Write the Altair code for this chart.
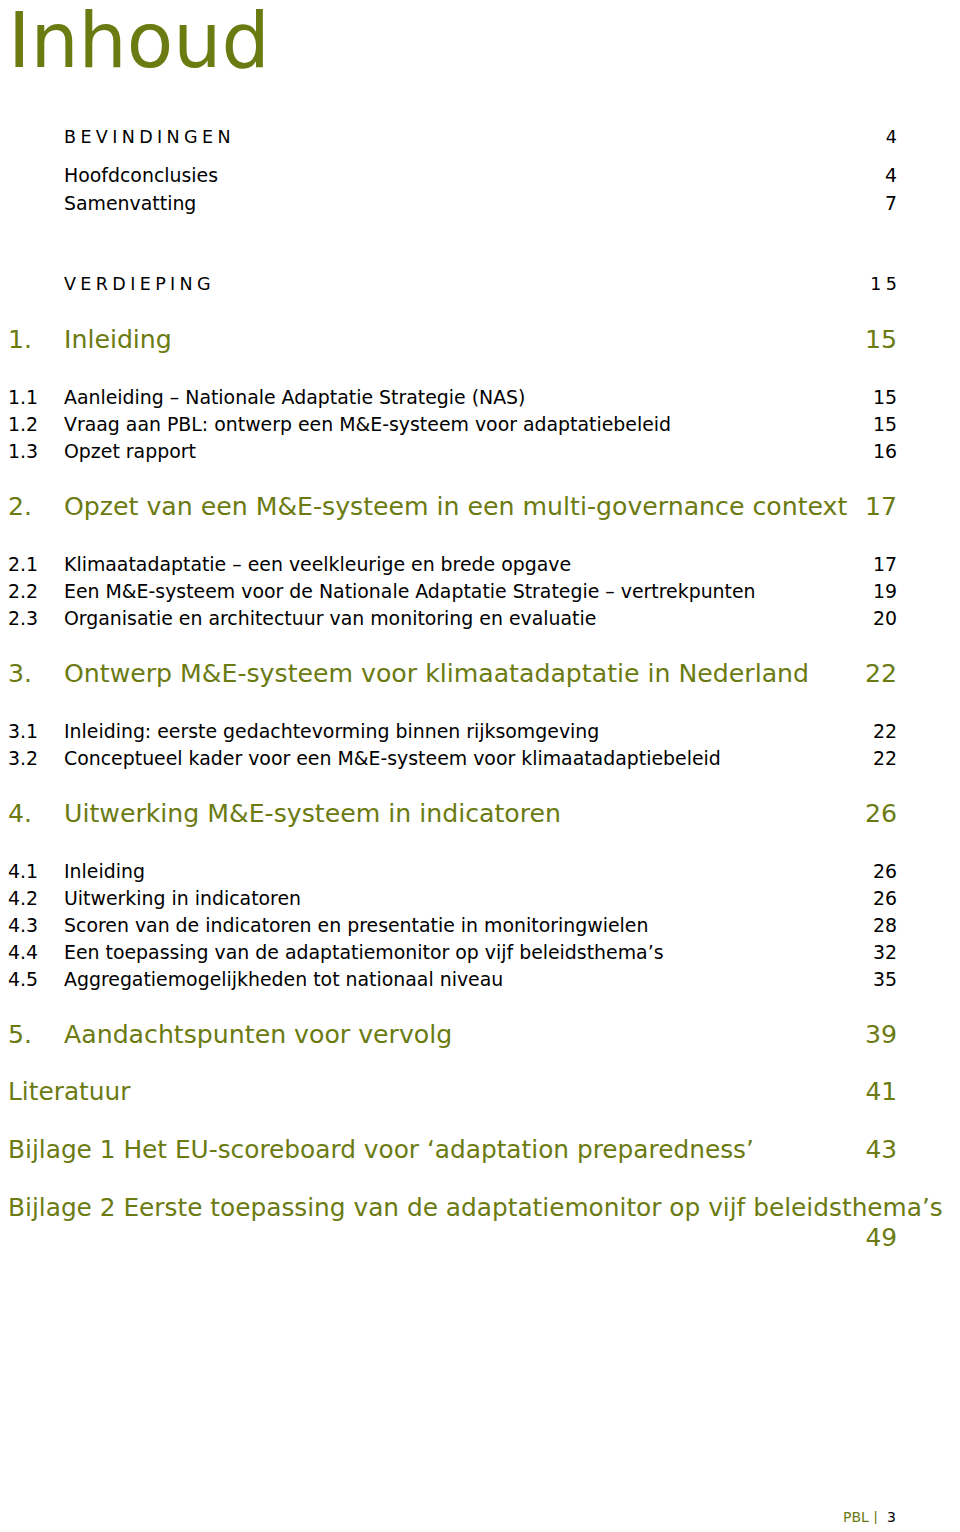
import altair as alt
import pandas as pd

FONT = "DejaVu Sans"
OLIVE = "#6b7b12"
BLACK = "#000000"

# ---- table-of-contents content ----
kinds = ["caps", "front", "front",
         "caps", "chapter", "item", "item", "item",
         "chapter", "item", "item", "item",
         "chapter", "item", "item",
         "chapter", "item", "item", "item", "item", "item",
         "chapter", "annex", "annex", "annex"]
numbers = ["", "", "",
           "", "1.", "1.1", "1.2", "1.3",
           "2.", "2.1", "2.2", "2.3",
           "3.", "3.1", "3.2",
           "4.", "4.1", "4.2", "4.3", "4.4", "4.5",
           "5.", "", "", ""]
titles = ["BEVINDINGEN", "Hoofdconclusies", "Samenvatting",
          "VERDIEPING", "Inleiding",
          "Aanleiding – Nationale Adaptatie Strategie (NAS)",
          "Vraag aan PBL: ontwerp een M&E-systeem voor adaptatiebeleid",
          "Opzet rapport",
          "Opzet van een M&E-systeem in een multi-governance context",
          "Klimaatadaptatie – een veelkleurige en brede opgave",
          "Een M&E-systeem voor de Nationale Adaptatie Strategie – vertrekpunten",
          "Organisatie en architectuur van monitoring en evaluatie",
          "Ontwerp M&E-systeem voor klimaatadaptatie in Nederland",
          "Inleiding: eerste gedachtevorming binnen rijksomgeving",
          "Conceptueel kader voor een M&E-systeem voor klimaatadaptiebeleid",
          "Uitwerking M&E-systeem in indicatoren",
          "Inleiding", "Uitwerking in indicatoren",
          "Scoren van de indicatoren en presentatie in monitoringwielen",
          "Een toepassing van de adaptatiemonitor op vijf beleidsthema’s",
          "Aggregatiemogelijkheden tot nationaal niveau",
          "Aandachtspunten voor vervolg",
          "Literatuur",
          "Bijlage 1 Het EU-scoreboard voor ‘adaptation preparedness’",
          "Bijlage 2 Eerste toepassing van de adaptatiemonitor op vijf beleidsthema’s"]
pages = ["4", "4", "7",
         "15", "15", "15", "15", "16",
         "17", "17", "19", "20",
         "22", "22", "22",
         "26", "26", "26", "28", "32", "35",
         "39", "41", "43", "49"]
page_wraps = [False] * 24 + [True]

# ---- layout rules ----
style = {"caps": (17.5, BLACK), "front": (18.9, BLACK), "item": (18.9, BLACK),
         "chapter": (25.2, OLIVE), "annex": (24.8, OLIVE)}
gaps = {("caps", "front"): 38, ("front", "front"): 28, ("front", "caps"): 81,
        ("caps", "chapter"): 55, ("chapter", "item"): 58, ("item", "item"): 27,
        ("item", "chapter"): 55, ("chapter", "annex"): 58, ("annex", "annex"): 58}
first_y = 138
num_x, title_x, page_x = 8, 64, 897


def spaced(s):
    return "\u2005".join(s)


rows_left, rows_right = [], []
y = first_y
for i, k in enumerate(kinds):
    if i > 0:
        y += gaps[(kinds[i - 1], k)]
    fs, col = style[k]
    t = spaced(titles[i]) if k == "caps" else titles[i]
    pg = spaced(pages[i]) if k == "caps" else pages[i]
    if numbers[i]:
        rows_left.append({"x": num_x, "y": y, "t": numbers[i], "fs": fs, "c": col})
    tx = num_x if k == "annex" else title_x
    rows_left.append({"x": tx, "y": y, "t": t, "fs": fs, "c": col})
    py = y + 30 if page_wraps[i] else y
    rows_right.append({"x": page_x, "y": py, "t": pg, "fs": fs, "c": col})

df_left = pd.DataFrame(rows_left)
df_right = pd.DataFrame(rows_right)
df_title = pd.DataFrame([{"x": 8, "y": 67, "t": "Inhoud", "fs": 76, "c": OLIVE}])
df_foot_l = pd.DataFrame([{"x": 843, "y": 1518, "t": "PBL |", "fs": 14, "c": OLIVE}])
df_foot_r = pd.DataFrame([{"x": 896, "y": 1518, "t": "3", "fs": 14, "c": BLACK}])

xs = alt.X("x:Q", scale=alt.Scale(domain=[8, 952]), axis=None)
ys = alt.Y("y:Q", scale=alt.Scale(domain=[8, 1524], reverse=True), axis=None)
enc = dict(x=xs, y=ys, text="t:N", size=alt.Size("fs:Q", scale=None),
           color=alt.Color("c:N", scale=None))

left = alt.Chart(df_left).mark_text(align="left", baseline="middle", font=FONT).encode(**enc)
right = alt.Chart(df_right).mark_text(align="right", baseline="middle", font=FONT).encode(**enc)
title = alt.Chart(df_title).mark_text(align="left", baseline="alphabetic", font=FONT).encode(**enc)
foot_l = alt.Chart(df_foot_l).mark_text(align="left", baseline="middle", font=FONT).encode(**enc)
foot_r = alt.Chart(df_foot_r).mark_text(align="right", baseline="middle", font=FONT).encode(**enc)

chart = alt.layer(title, left, right, foot_l, foot_r).properties(
    width=944, height=1516, padding=0, autosize="none", background="white"
).configure_view(strokeWidth=0)

chart.save("out.html", embed_options={"renderer": "svg", "actions": False})
